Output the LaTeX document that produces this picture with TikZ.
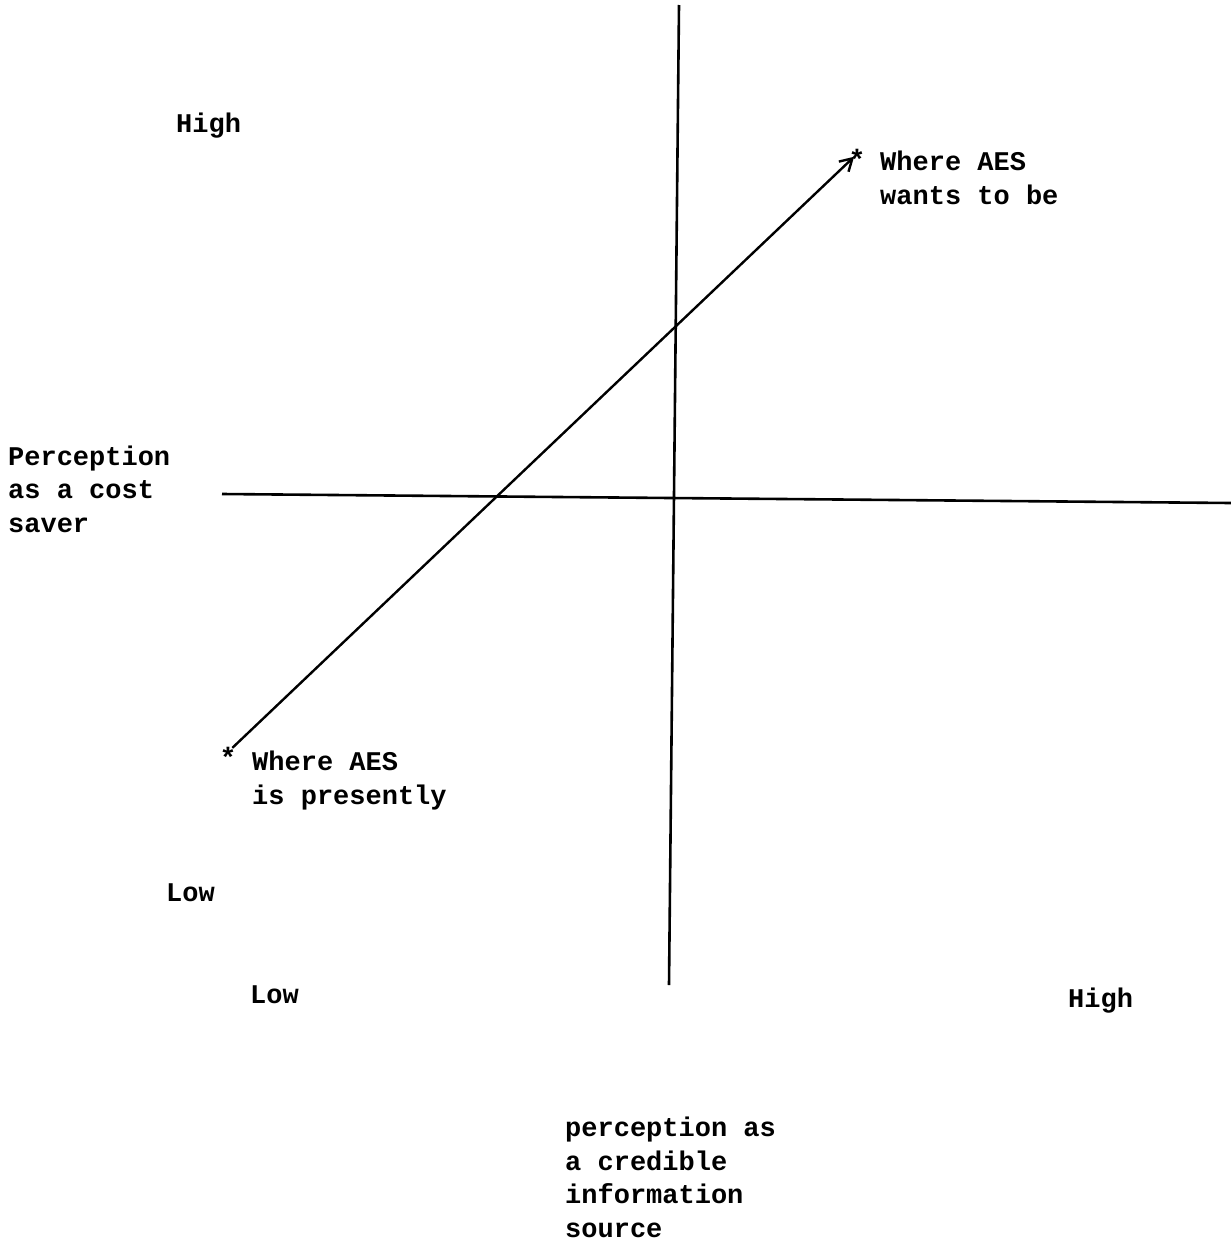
\documentclass[tikz,border=0pt]{standalone}
\usepackage{fontspec}
\setmonofont{Liberation Mono}
\usetikzlibrary{arrows.meta, positioning}

\tikzset{
  typed/.style={font=\ttfamily\bfseries\fontsize{27}{33.5}\selectfont, inner sep=0pt, align=left, anchor=base west},
  mark star/.style={font=\ttfamily\bfseries\fontsize{28}{28}\selectfont, inner sep=0pt},
  axis line/.style={line width=2.6pt},
}

\begin{document}
\begin{tikzpicture}[x=1pt,y=-1pt]
\useasboundingbox (0,0) rectangle (1231,1245);
% axes
\coordinate (vtop) at (679,5);
\coordinate (vbot) at (669,985);
\coordinate (hleft) at (222,494);
\coordinate (hright) at (1231,503);
\draw[axis line] (vtop) -- (vbot);
\draw[axis line] (hleft) -- (hright);
% where AES is and where it wants to be (base = last line)
\node[mark star] (now) at (228,757) {*};
\node[mark star] (goal) at (857,159) {*};
\draw[line width=2.4pt, shorten <=6pt, shorten >=4pt, -{Straight Barb[length=12pt,width=14pt]}]
  ([yshift=5pt]now.center) -- ([yshift=5pt]goal.center);
\node[typed] (nowtext) at (252,804) {Where AES\\is presently};
\node[typed] (goaltext) at (880,204) {Where AES\\wants to be};
% vertical axis labels
\node[typed] (yname) at (8,532) {Perception\\as a cost\\saver};
\node[typed] (yhigh) at (176,132) {High};
\node[typed] (ylow) at (166,901) {Low};
% horizontal axis labels
\node[typed] (xlow) at (250,1003) {Low};
\node[typed] (xhigh) at (1068,1007) {High};
\node[typed] (xname) at (565,1237) {perception as\\a credible\\information\\source};
\end{tikzpicture}
\end{document}
